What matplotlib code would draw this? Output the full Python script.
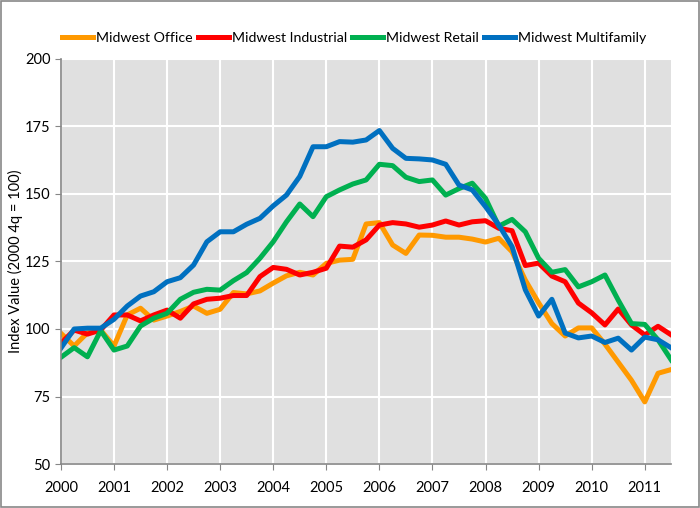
import matplotlib.pyplot as plt
import numpy as np
from matplotlib.patches import Rectangle

plt.rcParams['font.family'] = ['Lato', 'DejaVu Sans']

years = ['2000', '2001', '2002', '2003', '2004', '2005', '2006',
         '2007', '2008', '2009', '2010', '2011']

# quarterly index values, 2000 Q1 .. 2011 Q3
office = [98.4, 93.7, 98.6, 99.6, 93.7, 105.2, 107.7, 103.3, 104.8, 106.5,
          108.5, 105.8, 107.3, 113.5, 113.0, 114.1, 117.0, 119.7, 121.0, 120.0,
          124.3, 125.5, 125.8, 138.9, 139.4, 131.1, 128.0, 134.8, 134.7, 134.0,
          134.0, 133.3, 132.2, 133.6, 128.6, 118.1, 109.7, 102.0, 97.4, 100.4,
          100.4, 94.4, 87.7, 81.0, 73.0, 83.6, 85.0]
industrial = [94.7, 99.6, 98.1, 99.6, 105.2, 105.2, 103.0, 105.2, 107.0, 104.0,
              109.3, 111.0, 111.4, 112.4, 112.4, 119.4, 122.8, 122.1, 120.0, 121.0,
              122.5, 130.7, 130.3, 133.0, 138.5, 139.4, 138.9, 137.7, 138.5, 140.0,
              138.5, 139.7, 140.1, 137.3, 136.4, 123.5, 124.4, 119.6, 117.5, 109.6,
              106.0, 101.5, 107.4, 101.5, 97.8, 101.0, 97.8]
retail = [89.5, 93.1, 89.7, 99.4, 92.2, 93.7, 101.1, 104.0, 105.8, 111.0,
          113.6, 114.7, 114.4, 117.9, 120.9, 126.2, 132.3, 139.7, 146.3, 141.6,
          149.0, 151.5, 153.7, 155.2, 161.0, 160.5, 156.2, 154.6, 155.2, 149.6,
          152.0, 154.0, 148.4, 138.1, 140.6, 136.0, 126.2, 121.0, 122.0, 115.6,
          117.5, 120.0, 110.7, 102.0, 101.7, 96.0, 88.5]
multifamily = [92.9, 100.0, 100.3, 100.3, 103.6, 108.5, 112.2, 113.8, 117.5, 119.0,
               123.7, 132.3, 136.0, 136.0, 138.8, 141.0, 145.6, 149.6, 156.5, 167.5,
               167.5, 169.4, 169.2, 170.0, 173.5, 166.9, 163.2, 163.0, 162.6, 161.0,
               153.3, 151.5, 145.3, 138.5, 130.5, 114.5, 104.8, 111.0, 98.5, 96.7,
               97.4, 95.0, 96.6, 92.2, 97.0, 96.0, 93.0]

fig = plt.figure(figsize=(7, 5.08), dpi=100)
ax = fig.add_axes([0.087, 0.0866, 0.872, 0.7973])
ax.set_facecolor('#e0e0e0')

q = np.arange(len(office))
lw = 3.6
ax.plot(q, office, color='#ff9900', lw=lw, label='Midwest Office')
ax.plot(q, industrial, color='#ff0000', lw=lw, label='Midwest Industrial')
ax.plot(q, retail, color='#00b050', lw=lw, label='Midwest Retail')
ax.plot(q, multifamily, color='#0070c0', lw=lw, label='Midwest Multifamily')

ax.set_xlim(0, len(office) - 1)
ax.set_ylim(50, 200)
ax.set_xticks(np.arange(0, 4 * len(years), 4))
ax.set_xticklabels(years)
ax.set_yticks(np.arange(50, 201, 25))
ax.grid(True, color='white', lw=1.5)
ax.set_axisbelow(True)

for s in ['top', 'right']:
    ax.spines[s].set_visible(False)
for s in ['left', 'bottom']:
    ax.spines[s].set_color('#868686')
    ax.spines[s].set_linewidth(1.2)
ax.tick_params(axis='both', colors='#868686', labelcolor='black', labelsize=10.5,
               length=4, direction='out')
ax.tick_params(axis='x', pad=8)

ax.set_ylabel('Index Value (2000 4q = 100)', fontsize=10.5)
ax.yaxis.set_label_coords(-0.062, 0.5)

fig.legend(loc='center', bbox_to_anchor=(0.506, 0.925), ncol=4, frameon=False,
           fontsize=10.2, handlelength=2.2, handletextpad=0.2, columnspacing=0.35)

fig.patches.append(Rectangle((0.001, 0.001), 0.997, 0.997, transform=fig.transFigure,
                             fill=False, edgecolor='#888888', lw=1.2))

fig.savefig('out.png', dpi=100)
